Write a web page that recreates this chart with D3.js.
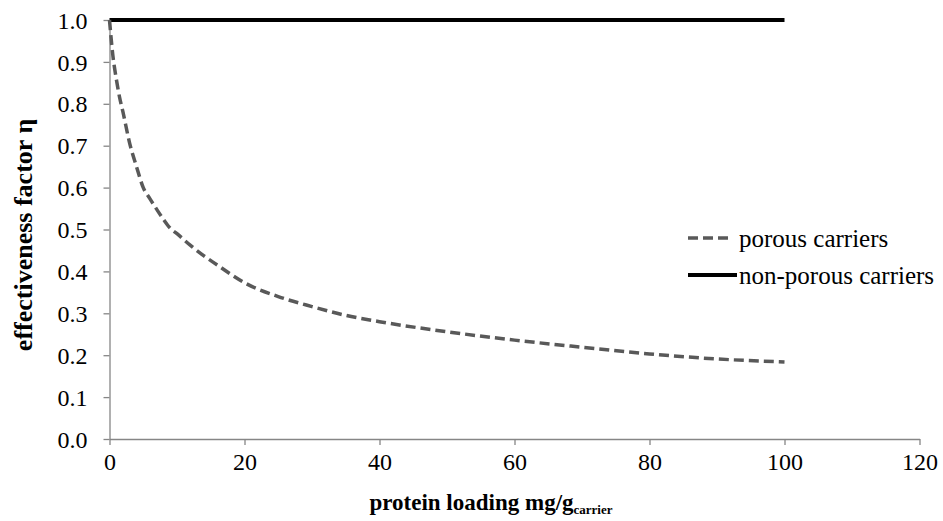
<!DOCTYPE html>
<html>
<head>
<meta charset="utf-8">
<script src="https://cdn.jsdelivr.net/npm/d3@7/dist/d3.min.js"></script>
<style>
  body { margin: 0; background: #fff; }
  svg { display: block; }
  svg text { font-family: "Liberation Serif", "Times New Roman", Times, "DejaVu Serif", serif !important; }
</style>
</head>
<body>
<svg id="chart" width="943" height="521"></svg>
<script>
// ---- data ----
const loading = [0, 0.5, 1, 1.5, 2, 3, 4, 5, 6, 7, 8, 9, 10, 12, 14, 16, 18, 20, 25, 30, 35, 40, 50, 60, 70, 80, 90, 100];
const porous  = [1.0, 0.915, 0.86, 0.815, 0.78, 0.705, 0.65, 0.6, 0.573, 0.548, 0.524, 0.503, 0.49, 0.462, 0.437, 0.415, 0.393, 0.373, 0.34, 0.316, 0.295, 0.28, 0.256, 0.236, 0.219, 0.203, 0.191, 0.184];
const nonPorousX = [0, 100];
const nonPorous  = [1.0, 1.0];
const xTicks = [0, 20, 40, 60, 80, 100, 120];
const yTicks = [0, 0.1, 0.2, 0.3, 0.4, 0.5, 0.6, 0.7, 0.8, 0.9, 1.0];
const seriesNames = ["porous carriers", "non-porous carriers"];

// ---- layout ----
const svg = d3.select("#chart");
const x = d3.scaleLinear().domain([0, 120]).range([109.5, 919.5]);
const y = d3.scaleLinear().domain([0, 1]).range([439, 20]);
const axisColor = "#868686";

const xAxis = svg.append("g").attr("transform", `translate(0,${y(0)})`)
  .call(d3.axisBottom(x).tickValues(xTicks).tickSize(6).tickSizeOuter(0).tickFormat(d3.format("d")));
const yAxis = svg.append("g").attr("transform", `translate(${x(0)},0)`)
  .call(d3.axisLeft(y).tickValues(yTicks).tickSize(6).tickSizeOuter(0).tickFormat(d3.format(".1f")));

[xAxis, yAxis].forEach(g => {
  g.attr("font-family", null).attr("font-size", 24);
  g.select(".domain").attr("stroke", axisColor).attr("stroke-width", 1.3);
  g.selectAll(".tick line").attr("stroke", axisColor).attr("stroke-width", 1.3);
  g.selectAll(".tick text").attr("fill", "#000").attr("font-size", 24);
});
xAxis.selectAll(".tick text").attr("dy", "0.71em").attr("y", 14);
yAxis.selectAll(".tick text").attr("x", -22).attr("dy", "0.34em");

// ---- lines ----
const line = d3.line().x(d => x(d[0])).y(d => y(d[1])).curve(d3.curveMonotoneX);
svg.append("path")
  .datum(nonPorousX.map((v, i) => [v, nonPorous[i]]))
  .attr("d", line).attr("fill", "none").attr("stroke", "#000").attr("stroke-width", 4);
svg.append("path")
  .datum(loading.map((v, i) => [v, porous[i]]))
  .attr("d", line).attr("fill", "none").attr("stroke", "#595959")
  .attr("stroke-width", 3.5).attr("stroke-dasharray", "10,5");

// ---- axis titles ----
const xt = svg.append("text").attr("x", 491).attr("y", 510).attr("text-anchor", "middle")
  .attr("font-weight", "bold").attr("font-size", 23);
xt.append("tspan").text("protein loading mg/g");
xt.append("tspan").text("carrier").attr("font-size", 13).attr("dy", 4);

svg.append("text")
  .attr("transform", `translate(32,235) rotate(-90)`)
  .attr("text-anchor", "middle").attr("font-weight", "bold").attr("font-size", 26)
  .text("effectiveness factor η");

// ---- legend ----
const legend = svg.append("g");
const legY = [238, 275];
legend.append("line").attr("x1", 688).attr("x2", 732).attr("y1", legY[0]).attr("y2", legY[0])
  .attr("stroke", "#595959").attr("stroke-width", 3.5).attr("stroke-dasharray", "10,5");
legend.append("line").attr("x1", 688).attr("x2", 737).attr("y1", legY[1]).attr("y2", legY[1])
  .attr("stroke", "#000").attr("stroke-width", 4);
seriesNames.forEach((name, i) => {
  legend.append("text").attr("x", 739).attr("y", legY[i]).attr("dy", "0.34em")
    .attr("font-size", 25).text(name);
});
</script>
</body>
</html>
